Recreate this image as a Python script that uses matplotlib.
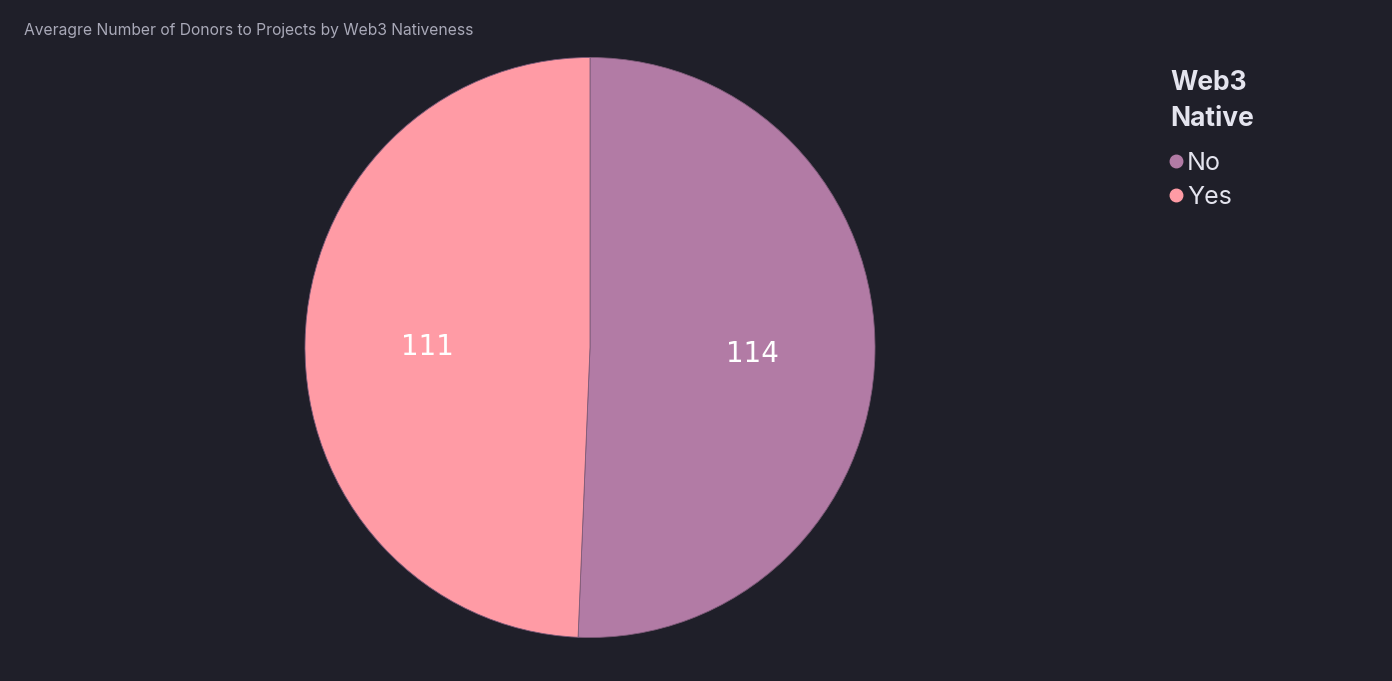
import matplotlib.pyplot as plt
from matplotlib.lines import Line2D

# 데이터
categories = ["No", "Yes"]
donors = [114, 111]
colors = ["#b27ba5", "#ff9ba5"]

BG = "#1f1f29"
TEXT = "#e4e4ee"

plt.rcParams["font.family"] = ["Inter", "DejaVu Sans"]

fig = plt.figure(figsize=(13.92, 6.81), dpi=100, facecolor=BG)
ax = fig.add_axes([305 / 1392, 43.5 / 681, 570 / 1392, 580 / 681])
ax.set_facecolor(BG)

wedges, texts, autotexts = ax.pie(
    donors,
    colors=colors,
    startangle=90,
    counterclock=False,
    autopct=lambda p: f"{p * sum(donors) / 100:.0f}",
    pctdistance=0.57,
    wedgeprops=dict(edgecolor="#7d5a78", linewidth=0.6),
    textprops=dict(color="white", fontsize=20, family="DejaVu Sans"),
)
for t in autotexts:
    t.set_va("center_baseline")
ax.set_xlim(-1, 1)
ax.set_ylim(-1, 1)
ax.set_aspect("auto")

fig.text(24 / 1392, 1 - 30 / 681, "Averagre Number of Donors to Projects by Web3 Nativeness",
         color="#a9a9b8", fontsize=11.25, va="center", ha="left")

# 범례 (수동 배치)
fig.text(1170 / 1392, 1 - 101 / 681, "Web3\nNative", color=TEXT, fontsize=19,
         fontweight="bold", va="center", ha="left", linespacing=1.55)
for i, (cat, col) in enumerate(zip(categories, colors)):
    y = 1 - (161 + 34 * i) / 681
    fig.add_artist(Line2D([1176 / 1392], [y], marker="o", markersize=9,
                          color=col, transform=fig.transFigure))
    fig.text(1187 / 1392, y - 2 / 681, cat, color=TEXT, fontsize=18, va="center", ha="left")

fig.savefig("out.png", dpi=100, facecolor=BG)
